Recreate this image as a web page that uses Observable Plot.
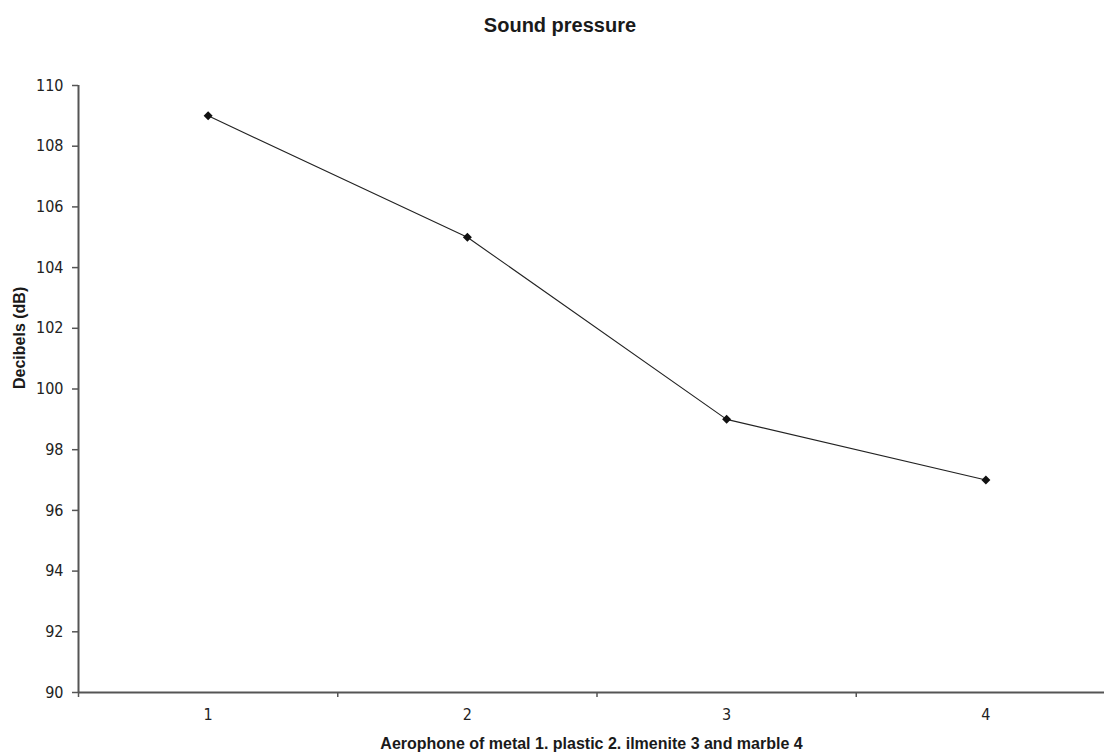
<!DOCTYPE html>
<html>
<head>
<meta charset="utf-8">
<script src="https://cdn.jsdelivr.net/npm/d3@7"></script>
<script src="https://cdn.jsdelivr.net/npm/@observablehq/plot@0.6"></script>
<style>
  html, body { margin: 0; padding: 0; background: #fff; }
  #wrap { position: relative; width: 1104px; height: 756px; overflow: hidden; }
  #title { position: absolute; left: 0; width: 1120px; top: 14px; text-align: center;
           font: bold 20px "Liberation Sans", Arial, sans-serif; color: #1a1a1a; }
</style>
</head>
<body>
<div id="wrap">
  <div id="title">Sound pressure</div>
</div>
<script>
const title = "Sound pressure";
const categories = [1, 2, 3, 4];
const decibels = [109, 105, 99, 97];
const yTicks = [90, 92, 94, 96, 98, 100, 102, 104, 106, 108, 110];
const xLabel = "Aerophone of metal 1. plastic 2. ilmenite 3 and marble 4";
const yLabel = "Decibels (dB)";

const data = categories.map((c, i) => ({x: c, y: decibels[i]}));
const boundaries = categories.map(c => c - 0.5);

const chart = Plot.plot({
  width: 1104,
  height: 756,
  marginTop: 85,
  marginBottom: 64,
  marginLeft: 78,
  marginRight: 0,
  style: {fontFamily: '"Liberation Sans Narrow", "DejaVu Sans Condensed", "Liberation Sans", Arial, sans-serif', background: "transparent", overflow: "hidden"},
  x: {type: "linear", domain: [0.5, 4.5], range: [78, 1115]},
  y: {domain: [90, 110]},
  marks: [
    Plot.ruleY([90], {stroke: "#555", strokeWidth: 2}),
    Plot.ruleX([0.5], {stroke: "#555", strokeWidth: 2}),
    Plot.axisY({ticks: yTicks, tickSize: 6, tickPadding: 9, stroke: "#555", strokeWidth: 1.5,
      fontSize: 16, color: "#222", label: null}),
    Plot.axisX({ticks: boundaries, tickSize: 5, tickFormat: () => "", stroke: "#555", strokeWidth: 1.5, label: null}),
    Plot.axisX({ticks: categories, tickSize: 0, tickPadding: 16, tickFormat: d => String(d), fontSize: 16, color: "#222", label: null}),
    Plot.text([xLabel], {frameAnchor: "bottom", dy: 56, fontSize: 16, fontWeight: "bold",
      fontFamily: '"Liberation Sans", Arial, sans-serif', fill: "#1a1a1a"}),
    Plot.text([yLabel], {frameAnchor: "left", dx: -59, rotate: -90, fontSize: 16, fontWeight: "bold",
      fontFamily: '"Liberation Sans", Arial, sans-serif', fill: "#1a1a1a"}),
    Plot.line(data, {x: "x", y: "y", stroke: "#222", strokeWidth: 1.1}),
    Plot.dot(data, {x: "x", y: "y", symbol: "square", rotate: 45, r: 3.6, fill: "#111", stroke: "none"})
  ]
});
chart.style.position = "absolute";
chart.style.left = "0";
chart.style.top = "0";
document.getElementById("wrap").appendChild(chart);
</script>
</body>
</html>
